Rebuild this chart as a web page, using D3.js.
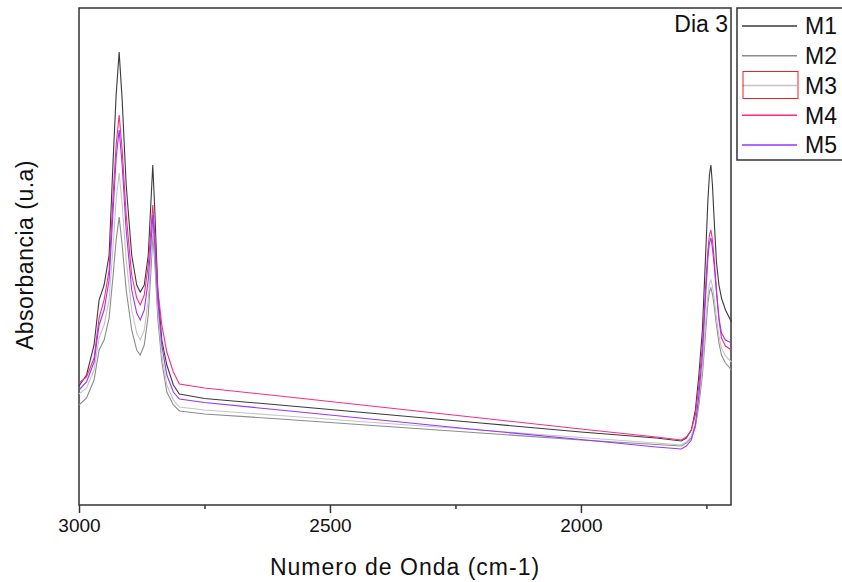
<!DOCTYPE html>
<html><head><meta charset="utf-8">
<script src="https://cdn.jsdelivr.net/npm/d3@7"></script>
<style>
html,body{margin:0;padding:0;background:#fff;}
svg{display:block;font-family:"Liberation Sans",Arial,sans-serif;}
</style></head>
<body><svg id="c" width="842" height="582"></svg>
<script>
const wavenumbers = [3000,2985,2970,2960,2950,2940,2932,2926,2920,2914,2906,2895,2885,2878,2870,2862,2856,2853,2849,2843,2835,2825,2812,2800,2750,2600,2400,2200,2000,1850,1800,1790,1780,1772,1765,1758,1752,1747,1744,1741,1738,1734,1730,1725,1720,1712,1700];
const M1 = [1.19,1.30,1.60,2.05,2.20,2.50,3.45,4.10,4.53,4.05,3.20,2.50,2.20,2.13,2.20,2.50,3.10,3.40,2.95,2.15,1.65,1.40,1.20,1.11,1.065,1.00,0.91,0.82,0.73,0.67,0.64,0.67,0.75,0.95,1.30,1.75,2.45,3.05,3.30,3.40,3.20,2.80,2.43,2.20,2.07,1.95,1.83];
const M2 = [1.00,1.07,1.25,1.55,1.65,1.87,2.30,2.65,2.88,2.60,2.15,1.75,1.55,1.50,1.60,1.90,2.40,2.70,2.43,1.87,1.43,1.13,1.00,0.94,0.91,0.86,0.79,0.72,0.65,0.605,0.59,0.62,0.67,0.78,1.00,1.30,1.70,2.02,2.13,2.17,2.11,1.97,1.80,1.62,1.50,1.42,1.35];
const M3 = [1.11,1.17,1.35,1.67,1.80,2.05,2.60,3.05,3.32,3.00,2.45,1.95,1.72,1.65,1.75,2.05,2.55,2.80,2.50,1.95,1.50,1.20,1.05,0.98,0.95,0.895,0.82,0.75,0.675,0.62,0.60,0.63,0.69,0.81,1.05,1.37,1.80,2.10,2.21,2.25,2.19,2.05,1.87,1.69,1.57,1.49,1.43];
const M4 = [1.22,1.28,1.47,1.87,2.05,2.35,3.10,3.60,3.90,3.55,2.90,2.30,2.07,2.00,2.10,2.40,2.80,3.00,2.70,2.15,1.80,1.53,1.33,1.21,1.17,1.09,0.98,0.87,0.76,0.68,0.65,0.68,0.75,0.90,1.20,1.60,2.15,2.55,2.70,2.75,2.65,2.43,2.15,1.85,1.67,1.59,1.55];
const M5 = [1.15,1.23,1.43,1.80,1.95,2.25,2.95,3.47,3.75,3.40,2.75,2.15,1.92,1.85,1.95,2.25,2.67,2.90,2.60,2.05,1.60,1.30,1.13,1.06,1.025,0.95,0.85,0.75,0.655,0.58,0.56,0.59,0.65,0.80,1.10,1.50,2.05,2.47,2.62,2.67,2.57,2.37,2.13,1.87,1.72,1.65,1.62];
const seriesNames = ["M1","M2","M3","M4","M5"];
const seriesColors = ["#3a3a3a","#8c8c8c","#c4c4c4","#ff2a80","#9933ff"];
const majorTicks = [3000,2500,2000];
const minorTicks = [2750,2250,1750];
const xTitle = "Numero de Onda (cm-1)";
const yTitle = "Absorbancia (u.a)";
const panelLabel = "Dia 3";

const seriesValues = [M1,M2,M3,M4,M5];
const svg = d3.select("#c");
const L=79, R=731, T=8, B=505;
const x = d3.scaleLinear().domain([3000,1701]).range([L,R]);
const y = d3.scaleLinear().domain([0,4.97]).range([B,T]);
const axisColor="#333";

// frame
svg.append("rect").attr("x",L).attr("y",T).attr("width",R-L).attr("height",B-T)
  .attr("fill","none").attr("stroke",axisColor).attr("stroke-width",1.5);

// lines
const line = d3.line().x((d,i)=>x(wavenumbers[i])).y(d=>y(d));
const g = svg.append("g");
seriesValues.forEach((vals,k)=>{
  g.append("path").datum(vals).attr("d",line).attr("fill","none")
    .attr("stroke",seriesColors[k]).attr("stroke-width",1.1);
});

// x axis
const xa = svg.append("g").attr("transform",`translate(0,${B})`)
  .call(d3.axisBottom(x).tickValues(majorTicks).tickSize(8).tickFormat(d3.format("d")).tickPadding(6));
xa.select(".domain").remove();
xa.selectAll("line").attr("stroke",axisColor).attr("stroke-width",1.5);
xa.selectAll("text").attr("font-size",19).attr("fill","#111").attr("font-family","Liberation Sans, Arial, sans-serif");
const xm = svg.append("g").attr("transform",`translate(0,${B})`)
  .call(d3.axisBottom(x).tickValues(minorTicks).tickSize(4).tickFormat(""));
xm.select(".domain").remove();
xm.selectAll("line").attr("stroke",axisColor).attr("stroke-width",1.5);

// titles
svg.append("text").attr("x",405).attr("y",575).attr("text-anchor","middle")
  .attr("font-size",23).attr("letter-spacing",1).attr("fill","#111").text(xTitle);
svg.append("text").attr("transform","translate(33,255) rotate(-90)").attr("text-anchor","middle")
  .attr("font-size",23).attr("letter-spacing",0.5).attr("fill","#111").text(yTitle);
svg.append("text").attr("x",728).attr("y",32).attr("text-anchor","end")
  .attr("font-size",23).attr("fill","#111").text(panelLabel);

// legend
const lg = svg.append("g");
lg.append("rect").attr("x",737).attr("y",8).attr("width",110).attr("height",152)
  .attr("fill","#fff").attr("stroke",axisColor).attr("stroke-width",1.5);
const ly = d3.scalePoint().domain(seriesNames).range([26,145]);
seriesNames.forEach((n,k)=>{
  lg.append("line").attr("x1",742).attr("x2",797).attr("y1",ly(n)).attr("y2",ly(n))
    .attr("stroke",seriesColors[k]).attr("stroke-width",1.5);
  lg.append("text").attr("x",805).attr("y",ly(n)).attr("dy","0.36em")
    .attr("font-size",23).attr("fill","#111").text(n);
});
lg.append("rect").attr("x",743).attr("y",ly("M3")-14).attr("width",55).attr("height",27)
  .attr("fill","none").attr("stroke","#ee2222").attr("stroke-width",1);
</script></body></html>
